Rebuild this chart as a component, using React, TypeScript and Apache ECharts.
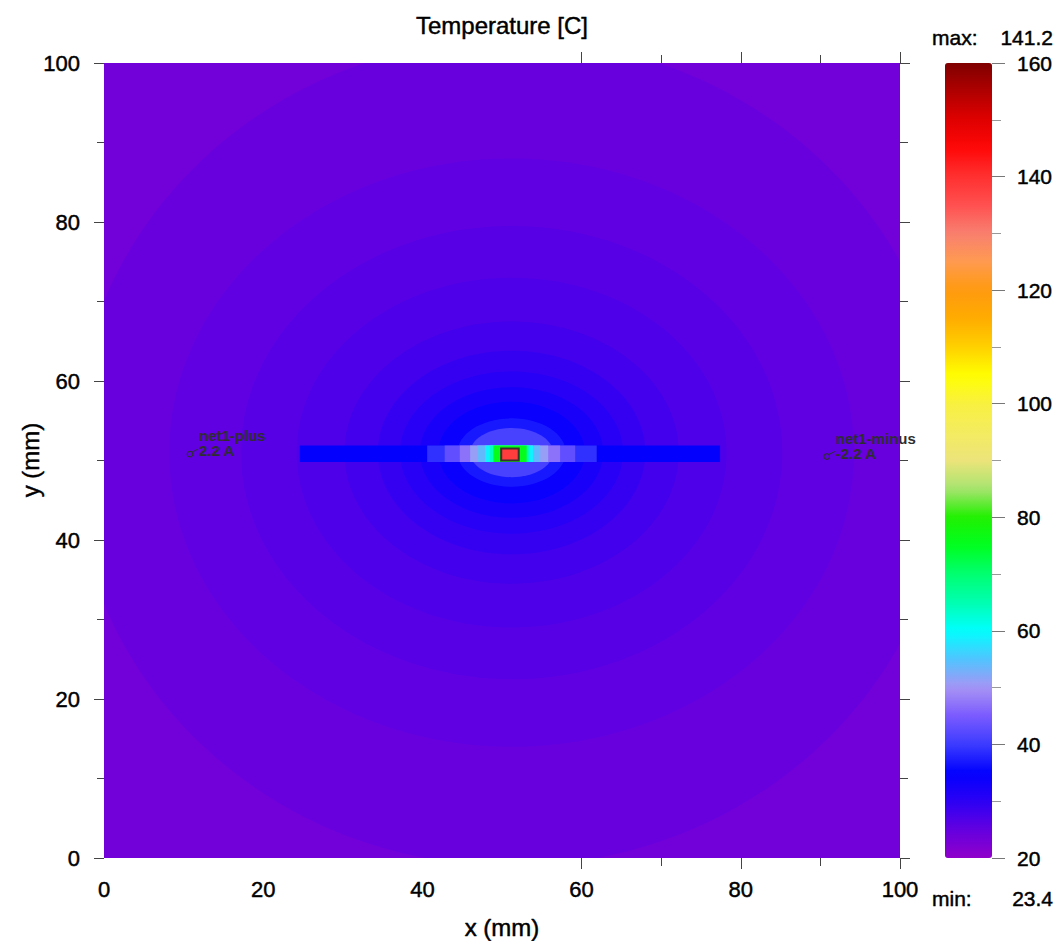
import React, { useEffect, useRef } from "react";
import * as echarts from "echarts";

// ---------- data ----------
const TITLE = "Temperature [C]";
const X_NAME = "x (mm)";
const Y_NAME = "y (mm)";
const PLOT_MIN = 0;
const PLOT_MAX = 100;
const CBAR_MIN = 20;
const CBAR_MAX = 160;
const T_MAX_LABEL = "141.2";
const T_MIN_LABEL = "23.4";

// hot spot centre (mm)
const HOT_X = 51.2;
const HOT_Y = 51.0;

// contour bands around the hot spot: level (C), half-width (mm), half-height (mm)
const bandLevels = [23.4, 24.6, 25.4, 26.2, 27.0, 28.0, 29.2, 30.6, 32.2, 34.0, 37.0, 41.0];
const bandHalfW = [100, 55, 43, 34, 27, 21, 16.8, 14, 11.5, 9.2, 6.8, 5.2];
const bandHalfH = [100, 52, 37, 28.5, 22, 16.5, 12.8, 10.2, 8.2, 6.4, 4.3, 3.1];

// copper trace along y ~ 51 mm: nested segments x-from, x-to, level
const traceY0 = 49.8;
const traceY1 = 51.9;
const traceFrom = [24.6, 40.6, 42.8, 44.7, 46.0, 46.9, 47.9, 48.5, 48.9];
const traceTo = [77.4, 61.9, 59.2, 57.3, 55.8, 54.8, 53.9, 53.5, 53.1];
const traceLevel = [34.5, 39, 43, 47, 51, 54, 59, 64, 76];

// the heating component
const partX = [49.9, 52.1];
const partY = [50.0, 51.5];
const partLevel = 138;

// net terminals
const netNames = ["net1-plus", "net1-minus"];
const netCurrents = ["2.2 A", "-2.2 A"];
const netX = [10.8, 90.8];
const netY = [50.8, 50.5];

// colour scale, evenly spaced from 20 to 160 (step 5)
const colorStops = [
  "#9000ca", "#6400e0", "#2c00f4", "#0000ff", "#3c3cff", "#7a5aff", "#a894f4",
  "#50c4ff", "#00ffff", "#00ffb0", "#00ff70", "#00ff20", "#20f000", "#a8e470",
  "#ece47a", "#f4ec60", "#f8f040", "#ffff00", "#ffd000", "#ffac00", "#ff9a10",
  "#ff9a50", "#f88070", "#ff5050", "#ff3030", "#ff0808", "#e00000", "#b00000",
  "#800000",
];

const FONT = "Liberation Sans, Arial, Helvetica, sans-serif";

export default function App() {
  const ref = useRef<HTMLDivElement>(null);

  useEffect(() => {
    if (!ref.current) return;
    const chart = echarts.init(ref.current, null, { renderer: "svg" });

    const bandData = bandLevels.map((v, i) => [HOT_X, HOT_Y, bandHalfW[i], bandHalfH[i], v]);
    const traceData = traceLevel.map((v, i) => [traceFrom[i], traceTo[i], traceY0, traceY1, v]);
    traceData.push([partX[0], partX[1], partY[0], partY[1], partLevel]);
    const netData = netNames.map((n, i) => [netX[i], netY[i], i]);

    const tickColor = "#444";
    const labelStyle = {
      color: "#000",
      fontFamily: FONT,
      textBorderColor: "#000",
      textBorderWidth: 0.45,
    };

    const xBase = (position: string, extra: any) => ({
      type: "value",
      gridIndex: 0,
      position,
      min: PLOT_MIN,
      max: PLOT_MAX,
      interval: 20,
      axisLine: { show: false, onZero: false },
      splitLine: { show: false },
      ...extra,
    });

    const txt = (text: string, x: number, y: number, size: number, align: string, rot = 0) => ({
      type: "text",
      x,
      y,
      rotation: rot,
      style: {
        text,
        font: `${size}px ${FONT}`,
        fill: "#000",
        stroke: "#000",
        lineWidth: 0.45,
        textAlign: align,
        textVerticalAlign: "middle",
      },
    });

    const option: any = {
      animation: false,
      backgroundColor: "#ffffff",
      grid: [
        { left: 104, top: 63, width: 796, height: 795 },
        { left: 945, top: 63, width: 47, height: 795 },
      ],
      xAxis: [
        xBase("bottom", {
          axisTick: { show: false },
          axisLabel: { fontSize: 22, margin: 20, ...labelStyle },
        }),
        xBase("bottom", {
          axisLabel: { show: false },
          axisTick: { show: true, length: 11, customValues: [60, 80, 100], lineStyle: { color: tickColor } },
        }),
        xBase("bottom", {
          axisLabel: { show: false },
          axisTick: { show: true, length: 8, customValues: [70, 90], lineStyle: { color: tickColor } },
        }),
        xBase("top", {
          axisLabel: { show: false },
          axisTick: { show: true, length: 11, customValues: [60, 80, 100], lineStyle: { color: tickColor } },
        }),
        xBase("top", {
          axisLabel: { show: false },
          axisTick: { show: true, length: 8, customValues: [70, 90], lineStyle: { color: tickColor } },
        }),
        { type: "value", gridIndex: 1, show: false, min: 0, max: 1 },
      ],
      yAxis: [
        {
          type: "value",
          gridIndex: 0,
          position: "left",
          min: PLOT_MIN,
          max: PLOT_MAX,
          interval: 20,
          axisLine: { show: false, onZero: false },
          axisTick: { show: true, length: 10, lineStyle: { color: tickColor } },
          minorTick: { show: true, splitNumber: 2, length: 7, lineStyle: { color: tickColor } },
          axisLabel: { fontSize: 22, margin: 24, ...labelStyle },
          splitLine: { show: false },
        },
        {
          type: "value",
          gridIndex: 0,
          position: "right",
          min: PLOT_MIN,
          max: PLOT_MAX,
          interval: 20,
          axisLine: { show: false, onZero: false },
          axisTick: { show: true, length: 10, lineStyle: { color: tickColor } },
          minorTick: { show: true, splitNumber: 2, length: 8, lineStyle: { color: tickColor } },
          axisLabel: { show: false },
          splitLine: { show: false },
        },
        {
          type: "value",
          gridIndex: 1,
          position: "right",
          min: CBAR_MIN,
          max: CBAR_MAX,
          interval: 20,
          axisLine: { show: false, onZero: false },
          axisTick: { show: true, length: 13, lineStyle: { color: "#777" } },
          minorTick: { show: true, splitNumber: 2, length: 9, lineStyle: { color: "#999" } },
          axisLabel: { fontSize: 21, margin: 25, ...labelStyle },
          splitLine: { show: false },
        },
      ],
      visualMap: {
        type: "continuous",
        min: CBAR_MIN,
        max: CBAR_MAX,
        seriesIndex: [0, 1],
        dimension: 4,
        orient: "vertical",
        left: 945,
        top: 63,
        itemWidth: 47,
        itemHeight: 795,
        padding: 0,
        calculable: false,
        hoverLink: false,
        text: null,
        inRange: { color: colorStops },
      },
      series: [
        {
          type: "custom",
          xAxisIndex: 0,
          yAxisIndex: 0,
          clip: true,
          encode: { x: 0, y: 1 },
          data: bandData,
          renderItem: (params: any, api: any) => {
            const c = api.coord([api.value(0), api.value(1)]);
            const s = api.size([api.value(2), api.value(3)]);
            return {
              type: "ellipse",
              shape: { cx: c[0], cy: c[1], rx: s[0], ry: s[1] },
              style: { fill: api.visual("color") },
            };
          },
        },
        {
          type: "custom",
          xAxisIndex: 0,
          yAxisIndex: 0,
          clip: true,
          encode: { x: [0, 1], y: [2, 3] },
          data: traceData,
          renderItem: (params: any, api: any) => {
            const p0 = api.coord([api.value(0), api.value(3)]);
            const p1 = api.coord([api.value(1), api.value(2)]);
            const isPart = params.dataIndex === traceData.length - 1;
            return {
              type: "rect",
              shape: { x: p0[0], y: p0[1], width: p1[0] - p0[0], height: p1[1] - p0[1] },
              style: {
                fill: api.visual("color"),
                stroke: isPart ? "#3a3030" : null,
                lineWidth: isPart ? 2 : 0,
              },
            };
          },
        },
        {
          type: "custom",
          xAxisIndex: 0,
          yAxisIndex: 0,
          clip: false,
          encode: { x: 0, y: 1 },
          data: netData,
          z: 5,
          renderItem: (params: any, api: any) => {
            const c = api.coord([api.value(0), api.value(1)]);
            const i = api.value(2);
            const ink = "#2e2e2e";
            return {
              type: "group",
              children: [
                {
                  type: "circle",
                  shape: { cx: c[0], cy: c[1], r: 2.8 },
                  style: { fill: "none", stroke: ink, lineWidth: 1.1 },
                },
                {
                  type: "line",
                  shape: { x1: c[0] + 2, y1: c[1] - 2, x2: c[0] + 8, y2: c[1] - 5 },
                  style: { stroke: ink, lineWidth: 1 },
                },
                {
                  type: "text",
                  x: c[0] + 9,
                  y: c[1] + 4,
                  style: {
                    text: `${netNames[i]}\n${netCurrents[i]}`,
                    font: `bold 15px ${FONT}`,
                    fill: ink,
                    lineHeight: 15,
                    textAlign: "left",
                    textVerticalAlign: "bottom",
                  },
                },
              ],
            };
          },
        },
      ],
      graphic: [
        txt(TITLE, 502, 25, 24, "center"),
        txt(X_NAME, 502, 927, 24, "center"),
        txt(Y_NAME, 30, 460, 24, "center", Math.PI / 2),
        txt("max:", 932, 37, 21, "left"),
        txt(T_MAX_LABEL, 1053, 37, 21, "right"),
        txt("min:", 932, 898, 21, "left"),
        txt(T_MIN_LABEL, 1053, 898, 21, "right"),
      ],
    };

    chart.setOption(option);
    return () => chart.dispose();
  }, []);

  return (
    <div
      ref={ref}
      style={{ position: "fixed", left: 0, top: 0, width: 1060, height: 941, background: "#fff" }}
    />
  );
}
